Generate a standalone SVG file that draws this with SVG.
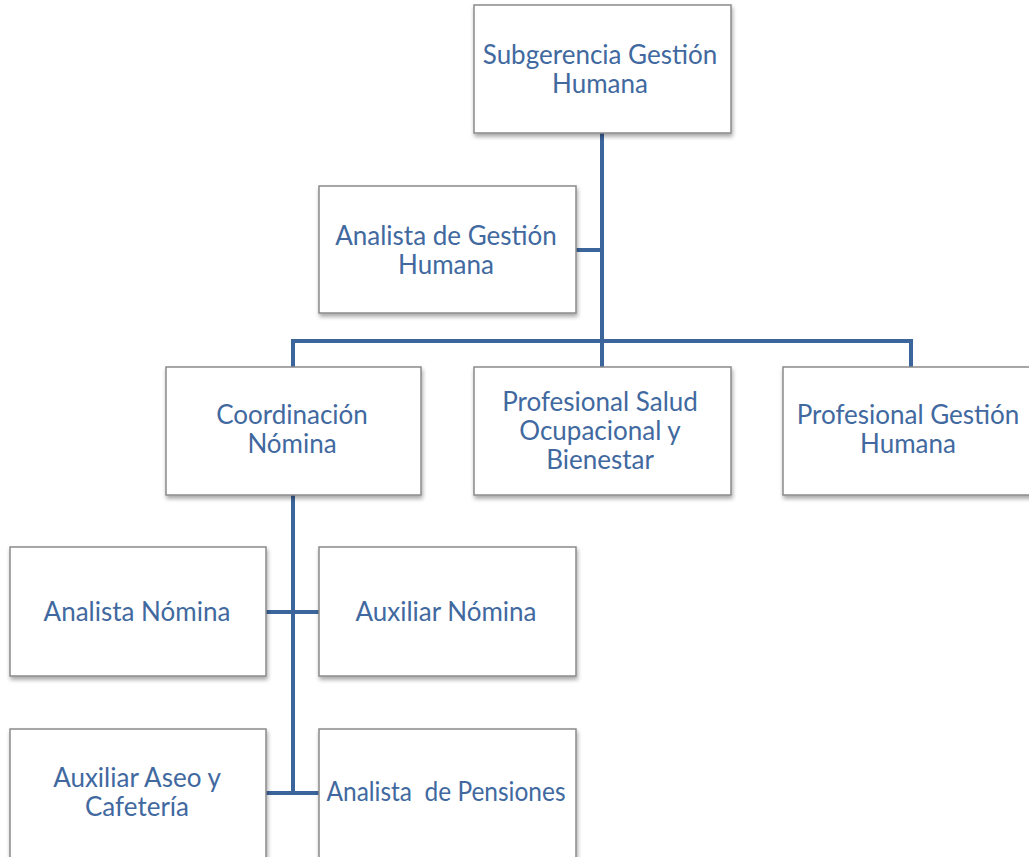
<svg xmlns="http://www.w3.org/2000/svg" width="1029" height="857" viewBox="0 0 1029 857">
<defs>
<filter id="sh" x="-5%" y="-5%" width="115%" height="120%">
<feGaussianBlur in="SourceAlpha" stdDeviation="2"/>
<feOffset dx="1" dy="3" result="b"/>
<feComponentTransfer><feFuncA type="linear" slope="0.35"/></feComponentTransfer>
<feMerge><feMergeNode/><feMergeNode in="SourceGraphic"/></feMerge>
</filter>
</defs>
<style>
.box{fill:#fff;stroke:#8a8a8a;stroke-width:1.5;filter:url(#sh)}
.t{font-family:Lato,"Open Sans","Liberation Sans",sans-serif;font-size:26px;fill:#4169a0;text-anchor:middle;white-space:pre}
.c{stroke:#3c659c;stroke-width:4;fill:none}
</style>
<rect width="1029" height="857" fill="#fff"/>
<g id="connectors">
<line class="c" x1="602" y1="133" x2="602" y2="367"/>
<line class="c" x1="576" y1="250" x2="602" y2="250"/>
<line class="c" x1="293" y1="341" x2="911" y2="341"/>
<line class="c" x1="293" y1="339" x2="293" y2="367"/>
<line class="c" x1="911" y1="339" x2="911" y2="367"/>
<line class="c" x1="293" y1="495" x2="293" y2="795"/>
<line class="c" x1="266" y1="612" x2="319" y2="612"/>
<line class="c" x1="266" y1="793" x2="319" y2="793"/>
</g>
<g id="n-subgerencia">
<rect class="box" x="474" y="5" width="257" height="128"/>
<text class="t" x="600" y="64">Subgerencia Gestión</text>
<text class="t" x="600" y="93">Humana</text>
</g>
<g id="n-analista-gh">
<rect class="box" x="319" y="186" width="257" height="127"/>
<text class="t" x="446" y="245">Analista de Gestión</text>
<text class="t" x="446" y="274">Humana</text>
</g>
<g id="n-coordinacion">
<rect class="box" x="166" y="367" width="255" height="128"/>
<text class="t" x="292" y="424">Coordinación</text>
<text class="t" x="292" y="453">Nómina</text>
</g>
<g id="n-salud">
<rect class="box" x="474" y="367" width="257" height="128"/>
<text class="t" x="600" y="411">Profesional Salud</text>
<text class="t" x="600" y="440">Ocupacional y</text>
<text class="t" x="600" y="469">Bienestar</text>
</g>
<g id="n-prof-gh">
<rect class="box" x="783" y="367" width="250" height="128"/>
<text class="t" x="908" y="424">Profesional Gestión</text>
<text class="t" x="908" y="453">Humana</text>
</g>
<g id="n-analista-nomina">
<rect class="box" x="10" y="547" width="256" height="129"/>
<text class="t" x="137" y="621">Analista Nómina</text>
</g>
<g id="n-auxiliar-nomina">
<rect class="box" x="319" y="547" width="257" height="129"/>
<text class="t" x="446" y="621">Auxiliar Nómina</text>
</g>
<g id="n-aseo">
<rect class="box" x="10" y="729" width="256" height="140"/>
<text class="t" x="137" y="787">Auxiliar Aseo y</text>
<text class="t" x="137" y="816">Cafetería</text>
</g>
<g id="n-pensiones">
<rect class="box" x="319" y="729" width="257" height="140"/>
<text class="t" x="446" y="801" textLength="239" lengthAdjust="spacingAndGlyphs">Analista  de Pensiones</text>
</g>
</svg>
